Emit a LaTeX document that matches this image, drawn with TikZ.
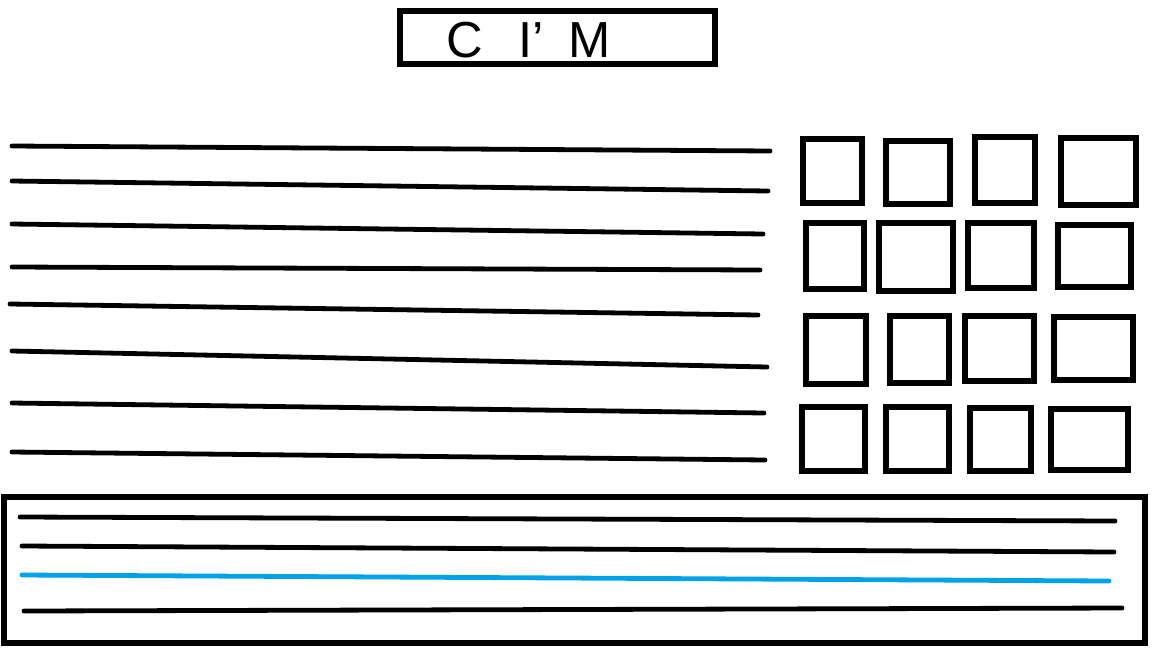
\documentclass[tikz,border=0pt]{standalone}
\usepackage{fontspec}
\setmainfont{Liberation Sans}
\definecolor{paintblue}{HTML}{00A2E8}
\tikzset{
  stroke/.style={line width=3.6pt, line cap=round, line join=round},
  boxline/.style={line width=3.8pt, line join=miter},
  titletext/.style={font=\fontsize{38}{42}\selectfont, inner sep=0pt}
}
\begin{document}
\begin{tikzpicture}[x=0.75pt, y=-0.75pt]
\useasboundingbox (0,0) rectangle (1176,668);
% title
\draw[boxline] (400,11) rectangle (715,64);
\node[titletext, anchor=west] (title) at (446,40) {C\hspace{27pt}I'\hspace{18pt}M};
% left lines
\draw[stroke] (12,146) -- (770,151);
\draw[stroke] (12,181) -- (768,191);
\draw[stroke] (12,224) -- (763,234);
\draw[stroke] (12,267) -- (760,270);
\draw[stroke] (10,304) -- (758,315);
\draw[stroke] (12,351) -- (767,367);
\draw[stroke] (12,403) -- (764,413);
\draw[stroke] (12,452) -- (765,460);
% grid of boxes
\draw[boxline] (803,139) rectangle (862,203);
\draw[boxline] (886,141) rectangle (950,204);
\draw[boxline] (975,137) rectangle (1035,203);
\draw[boxline] (1061,138) rectangle (1136,205);
\draw[boxline] (806,223) rectangle (864,289);
\draw[boxline] (879,223) rectangle (953,291);
\draw[boxline] (968,223) rectangle (1034,288);
\draw[boxline] (1058,225) rectangle (1131,287);
\draw[boxline] (806,316) rectangle (866,384);
\draw[boxline] (890,316) rectangle (949,383);
\draw[boxline] (965,316) rectangle (1034,381);
\draw[boxline] (1054,317) rectangle (1133,380);
\draw[boxline] (802,407) rectangle (865,471);
\draw[boxline] (886,407) rectangle (949,471);
\draw[boxline] (970,408) rectangle (1031,471);
\draw[boxline] (1051,409) rectangle (1128,470);
% bottom panel
\draw[boxline] (4,497) rectangle (1145,643);
\draw[stroke] (20,517) -- (1115,521);
\draw[stroke] (22,546) -- (1114,552);
\draw[stroke, paintblue] (22,575) -- (1109,581);
\draw[stroke] (24,611) -- (1122,608);
\end{tikzpicture}
\end{document}
